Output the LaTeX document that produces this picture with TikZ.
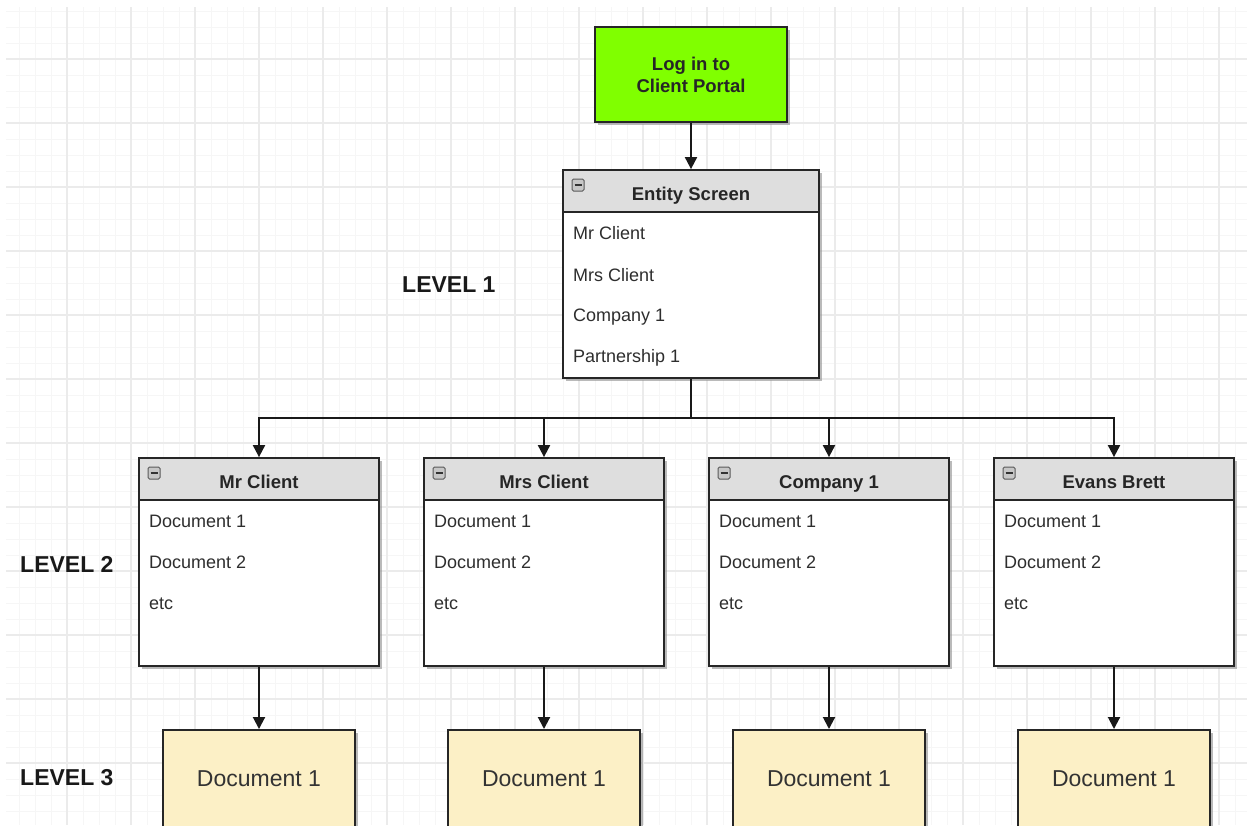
\documentclass[tikz,border=0pt]{standalone}
\usepackage{fontspec}
\setmainfont{Liberation Sans}
\usetikzlibrary{arrows.meta,shadows}
\definecolor{gridminor}{HTML}{F6F6F6}
\definecolor{gridmajor}{HTML}{EBEBEB}
\definecolor{hdrgray}{HTML}{DEDEDE}
\definecolor{greenbox}{HTML}{80FF00}
\definecolor{yellowbox}{HTML}{FCF0C6}
\definecolor{itemtext}{HTML}{2E2E2E}
\tikzset{
  boxshadow/.style={drop shadow={shadow xshift=3pt,shadow yshift=-3pt,fill=black!45,opacity=0.6}},
  box/.style={draw=black!85,line width=1.8pt,fill=white,inner sep=0pt,boxshadow},
  hdr/.style={draw=black!85,line width=1.8pt,fill=hdrgray,inner sep=0pt},
  hdrtext/.style={anchor=base,inner sep=0pt,font=\fontsize{18.5}{22}\selectfont\bfseries,text=black!85},
  item/.style={anchor=west,inner sep=0pt,font=\fontsize{18}{22}\selectfont,text=itemtext},
  lvl/.style={anchor=west,inner sep=0pt,font=\fontsize{23}{27}\selectfont\bfseries,text=black!90},
  doc/.style={draw=black!85,line width=1.8pt,fill=yellowbox,inner sep=0pt,minimum width=192pt,minimum height=98pt,anchor=north,font=\fontsize{23}{27}\selectfont,text=black!80,boxshadow},
  conn/.style={draw=black!90,line width=2pt,-{Triangle[width=12pt,length=12pt]}},
  plain/.style={draw=black!90,line width=2.6pt},
  minus/.style={draw=black!65,line width=1pt,fill=black!22,rounded corners=1.5pt}
}
\newcommand{\minusicon}[2]{%
  \draw[minus] (#1+9,#2+9) rectangle (#1+21,#2+21);
  \draw[black!80,line width=1.5pt] (#1+11.5,#2+15) -- (#1+18.5,#2+15);
}
\begin{document}
\begin{tikzpicture}[x=1pt,y=-1pt]
\useasboundingbox (0,0) rectangle (1247,825);
\fill[white] (0,0) rectangle (1247,825);
\begin{scope}
\clip (6,7) rectangle (1247,825);
\foreach \x in {3,19,...,1247} \draw[gridminor,line width=1pt] (\x,7) -- (\x,825);
\foreach \y in {11,27,...,825} \draw[gridminor,line width=1pt] (6,\y) -- (1247,\y);
\foreach \x in {3,67,...,1247} \draw[gridmajor,line width=1.2pt] (\x,7) -- (\x,825);
\foreach \y in {59,123,...,825} \draw[gridmajor,line width=1.2pt] (6,\y) -- (1247,\y);
\end{scope}

% Level labels
\node[lvl] (lv1) at (402,285) {LEVEL 1};
\node[lvl] (lv2) at (20,564) {LEVEL 2};
\node[lvl] (lv3) at (20,778) {LEVEL 3};

% Login box
\node[box,fill=greenbox,minimum width=192pt,minimum height=95pt,align=center,
      font=\fontsize{18.5}{22}\selectfont\bfseries,text=black!85] (login) at (691,74.5) {Log in to\\Client Portal};

% Entity screen
\node[box,minimum width=256pt,minimum height=208pt] (es) at (691,274) {};
\node[hdr,minimum width=256pt,minimum height=42pt,anchor=north] (esh) at (es.north) {};
\node[hdrtext] (esht) at (691,200) {Entity Screen};
\minusicon{563}{170}
\node[item] (es1) at (573,233) {Mr Client};
\node[item] (es2) at (573,275) {Mrs Client};
\node[item] (es3) at (573,317) {Company 1};
\node[item] (es4) at (573,358) {Partnership 1};

% Level 2 boxes
\foreach \cx/\nm/\ttl in {259/a/Mr Client,544/b/Mrs Client,829/c/Company 1,1114/d/Evans Brett}{
  \node[box,minimum width=240pt,minimum height=208pt] (l2\nm) at (\cx,562) {};
  \node[hdr,minimum width=240pt,minimum height=42pt,anchor=north] (l2h\nm) at (l2\nm.north) {};
  \node[hdrtext] (l2t\nm) at (\cx,488) {\ttl};
  \minusicon{\cx-120}{458}
  \node[item] (l2\nm i1) at (\cx-110,521) {Document 1};
  \node[item] (l2\nm i2) at (\cx-110,562) {Document 2};
  \node[item] (l2\nm i3) at (\cx-110,604) {etc};
  \node[doc] (l3\nm) at (\cx,729) {Document 1};
}

% Connectors
\draw[conn] (login.south) -- (esh.north);
\coordinate (hub) at (691,418);
\draw[plain] (es.south) -- (hub);
\foreach \nm in {a,b,c,d}{
  \draw[conn] (hub) -| (l2h\nm.north);
  \draw[conn] (l2\nm.south) -- (l3\nm.north);
}
\end{tikzpicture}
\end{document}
